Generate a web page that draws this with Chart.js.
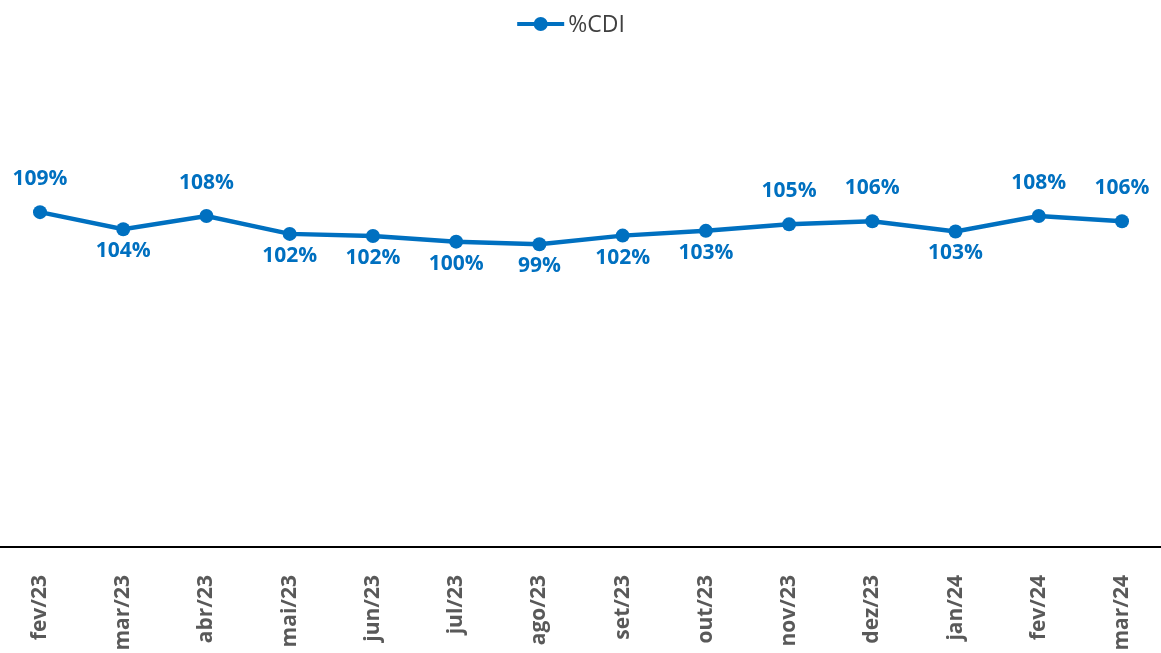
<!DOCTYPE html>
<html>
<head>
<meta charset="utf-8">
<script src="https://cdn.jsdelivr.net/npm/chart.js@4"></script>
<style>
  html, body { margin: 0; padding: 0; background: #fff; }
  #wrap { width: 1161px; height: 653px; position: relative; }
</style>
</head>
<body>
<div id="wrap"><canvas id="c"></canvas></div>
<script>
const categories = ["fev/23","mar/23","abr/23","mai/23","jun/23","jul/23","ago/23","set/23","out/23","nov/23","dez/23","jan/24","fev/24","mar/24"];
const seriesName = "%CDI";
const cdiValues = [109.3, 103.9, 108.1, 102.45, 101.8, 100.0, 99.2, 101.9, 103.4, 105.45, 106.45, 103.2, 108.1, 106.45];

const BLUE = "#0070C0";
const labelSide = ["up","down","up","down","down","down","down","down","down","up","up","down","up","up"];

const dataLabelPlugin = {
  id: "dataLabelPlugin",
  afterDatasetsDraw(chart) {
    const meta = chart.getDatasetMeta(0);
    const ctx = chart.ctx;
    ctx.save();
    ctx.font = "bold 21px 'Open Sans'";
    ctx.fillStyle = BLUE;
    ctx.textAlign = "center";
    ctx.textBaseline = "middle";
    meta.data.forEach((pt, i) => {
      const v = chart.data.datasets[0].data[i];
      const txt = Math.round(v) + "%";
      const dy = labelSide[i] === "up" ? -33 : 22;
      ctx.fillText(txt, pt.x, pt.y + dy);
    });
    ctx.restore();
  }
};

// full-width category axis line
const baselinePlugin = {
  id: "baselinePlugin",
  beforeDatasetsDraw(chart) {
    const ctx = chart.ctx;
    const y = chart.scales.x.top;
    ctx.save();
    ctx.strokeStyle = "#000000";
    ctx.lineWidth = 2;
    ctx.beginPath(); ctx.moveTo(0, y); ctx.lineTo(chart.width, y); ctx.stroke();
    ctx.restore();
  }
};

// legend: line + marker + series name
const legendPlugin = {
  id: "legendPlugin",
  afterDraw(chart) {
    const ctx = chart.ctx;
    const ds = chart.data.datasets[0];
    ctx.save();
    ctx.font = "23px 'Open Sans'";
    const tw = ctx.measureText(ds.label).width;
    const markW = 47, gap = 4;
    const total = markW + gap + tw;
    const x0 = 571 - total / 2;
    const y = 24;
    ctx.strokeStyle = ds.borderColor; ctx.lineWidth = 4;
    ctx.beginPath(); ctx.moveTo(x0, y); ctx.lineTo(x0 + markW, y); ctx.stroke();
    ctx.fillStyle = ds.borderColor;
    ctx.beginPath(); ctx.arc(x0 + markW / 2, y, 7, 0, Math.PI * 2); ctx.fill();
    ctx.fillStyle = "#404040";
    ctx.textAlign = "left"; ctx.textBaseline = "middle";
    ctx.fillText(ds.label, x0 + markW + gap, y + 1);
    ctx.restore();
  }
};

new Chart(document.getElementById("c"), {
  type: "line",
  data: {
    labels: categories,
    datasets: [{
      label: seriesName,
      data: cdiValues,
      borderColor: BLUE,
      backgroundColor: BLUE,
      borderWidth: 4.5,
      pointRadius: 7,
      pointHoverRadius: 7,
      pointBackgroundColor: BLUE,
      pointBorderColor: BLUE,
      pointBorderWidth: 0,
      pointStyle: "circle",
      tension: 0,
      clip: false
    }]
  },
  options: {
    responsive: true,
    maintainAspectRatio: false,
    animation: false,
    layout: { padding: { left: 40, right: 39, top: 46, bottom: 0 } },
    plugins: {
      tooltip: { enabled: false },
      legend: { display: false }
    },
    scales: {
      x: {
        offset: false,
        grid: { display: false, drawTicks: false },
        border: { display: false },
        afterFit(scale) {
          scale.height = 106;
          scale.paddingLeft = 0;
          scale.paddingRight = 0;
        },
        ticks: {
          autoSkip: false,
          maxRotation: 90,
          minRotation: 90,
          padding: 28,
          color: "#595959",
          font: { family: "'Open Sans'", size: 21, weight: "bold" }
        }
      },
      y: {
        display: false,
        min: 3.7,
        max: 161.7
      }
    }
  },
  plugins: [baselinePlugin, dataLabelPlugin, legendPlugin]
});
</script>
</body>
</html>
